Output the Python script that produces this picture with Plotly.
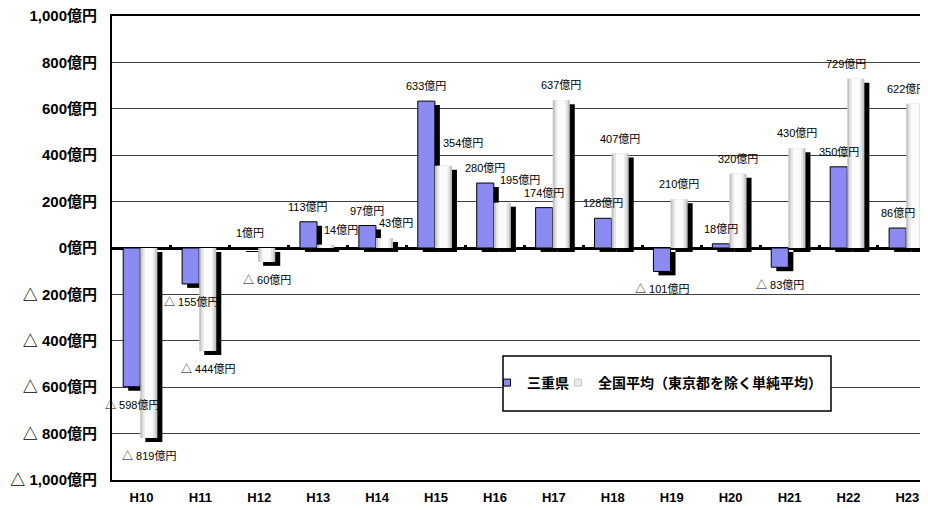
import plotly.graph_objects as go

# ---- data ----
years = ["H10", "H11", "H12", "H13", "H14", "H15", "H16", "H17", "H18", "H19", "H20", "H21", "H22", "H23"]
mie = [-598, -155, 1, 113, 97, 633, 280, 174, 128, -101, 18, -83, 350, 86]
national = [-819, -444, -60, 14, 43, 354, 195, 637, 407, 210, 320, 430, 729, 622]
y_ticks = [1000, 800, 600, 400, 200, 0, -200, -400, -600, -800, -1000]
series_names = ["三重県", "全国平均（東京都を除く単純平均）"]

# label nudges (pixels) for the national-average labels
nat_dx = [0, 0, 0, 15, 12, 20, 18, 0, 0, 0, 0, 0, -10, -8]
nat_dy = [0, 0, 0, 0, 0, 8, 8, 0, 0, 0, 0, 0, 0, 0]

def yen(v):
    return (f"△ {abs(v):,}億円" if v < 0 else f"{v:,}億円")

x = list(range(len(years)))

BLUE_OFF, BLUE_W = -0.31, 0.29
NAT_OFF, NAT_W = -0.02, 0.29
SH_DX = 0.085      # shadow shift right (units)
SH_DY = -17        # shadow shift down (value units)

fig = go.Figure()

fig.add_trace(go.Bar(x=x, y=mie, base=SH_DY, offset=BLUE_OFF + SH_DX, width=BLUE_W,
                     marker=dict(color="black", line=dict(width=0)), showlegend=False, hoverinfo="skip"))
fig.add_trace(go.Bar(x=x, y=mie, offset=BLUE_OFF, width=BLUE_W, name=series_names[0],
                     marker=dict(color="#8a8af0", line=dict(color="black", width=1)), showlegend=False))
fig.add_trace(go.Bar(x=x, y=national, base=SH_DY, offset=NAT_OFF + SH_DX, width=NAT_W,
                     marker=dict(color="black", line=dict(width=0)), showlegend=False, hoverinfo="skip"))
fig.add_trace(go.Bar(x=x, y=national, offset=NAT_OFF, width=NAT_W, name=series_names[1],
                     marker=dict(color="#c4c4c4", line=dict(width=0)), showlegend=False))
fig.add_trace(go.Bar(x=x, y=national, offset=NAT_OFF + 0.035, width=NAT_W - 0.07,
                     marker=dict(color="#e6e6e6", line=dict(width=0)), showlegend=False, hoverinfo="skip"))
fig.add_trace(go.Bar(x=x, y=national, offset=NAT_OFF + 0.075, width=NAT_W - 0.15,
                     marker=dict(color="#fbfbfb", line=dict(width=0)), showlegend=False, hoverinfo="skip"))

fig.add_trace(go.Scatter(x=[None], y=[None], mode="markers", name=series_names[0], xaxis="x2",
                         legend="legend",
                         marker=dict(symbol="square", size=7, color="#8a8af0", line=dict(color="black", width=1))))
fig.add_trace(go.Scatter(x=[None], y=[None], mode="markers", name=series_names[1], xaxis="x2",
                         legend="legend2",
                         marker=dict(symbol="square", size=7, color="#e8e8e8", line=dict(color="#c8c8c8", width=1))))

lab_font = dict(family="Liberation Sans, Noto Sans CJK JP", size=11, color="#000")
ann = []
bc = BLUE_OFF + BLUE_W / 2
nc = NAT_OFF + NAT_W / 2
for i, v in enumerate(mie):
    ann.append(dict(x=i + bc, y=v, text=yen(v), showarrow=False, font=lab_font,
                    xanchor="center", yanchor="middle", yshift=15 if v >= 0 else -18))
for i, v in enumerate(national):
    ann.append(dict(x=i + nc, y=v, text=yen(v), showarrow=False, font=lab_font,
                    xanchor="center", yanchor="middle", xshift=nat_dx[i],
                    yshift=(15 + nat_dy[i]) if v >= 0 else -18))

# page layout (page is shown with an 8px body margin)
OFF = 8
W, H = 928 - OFF, 510 - OFF
L, R, T, B = 112, 928, 16, 480          # plot area in page pixels
pw, ph = R - L, B - T
def px_x(p): return (p - L) / pw
def px_y(p): return (B - p) / ph

shapes = [dict(type="rect", xref="paper", yref="paper", layer="above",
               x0=px_x(503), x1=px_x(831), y0=px_y(411), y1=px_y(356),
               fillcolor="white", line=dict(color="black", width=1.5))]

leg_font = dict(family="Liberation Sans, Noto Sans CJK JP", size=14, color="black", weight="bold")

fig.update_layout(
    width=W, height=H,
    margin=dict(l=L - OFF, r=0, t=T - OFF, b=H - (B - OFF), autoexpand=False),
    paper_bgcolor="white", plot_bgcolor="white",
    barmode="overlay",
    annotations=ann,
    shapes=shapes,
    showlegend=True,
    legend=dict(orientation="h", x=px_x(487), y=px_y(383), xanchor="left", yanchor="middle",
                bgcolor="rgba(0,0,0,0)", borderwidth=0, font=leg_font, itemwidth=30),
    legend2=dict(orientation="h", x=px_x(558), y=px_y(383), xanchor="left", yanchor="middle",
                 bgcolor="rgba(0,0,0,0)", borderwidth=0, font=leg_font, itemwidth=30),
    xaxis=dict(range=[-0.5, 13.35], tickvals=x, ticktext=years, showgrid=False, zeroline=False,
               showline=True, mirror=True, linecolor="black", linewidth=2, ticks="",
               ticklabelstandoff=4, automargin=False, ticklabeloverflow="allow",
               tickfont=dict(family="Liberation Sans", size=13, color="black", weight="bold")),
    xaxis2=dict(range=[-0.5, 13.35], overlaying="x", anchor="free", position=0.5, side="top",
                tickvals=[i + 0.5 for i in range(len(years) - 1)], ticks="outside", ticklen=3,
                tickwidth=3, tickcolor="black", showticklabels=False, showgrid=False,
                zeroline=False, showline=False, automargin=False),
    yaxis=dict(range=[-1000, 1000], tickvals=y_ticks, ticktext=[yen(v) for v in y_ticks],
               showgrid=True, gridcolor="#404040", gridwidth=1,
               zeroline=True, zerolinecolor="black", zerolinewidth=2.5,
               showline=True, linecolor="black", linewidth=2, ticks="", ticklabelstandoff=10,
               automargin=False, ticklabeloverflow="allow",
               tickfont=dict(family="Liberation Sans, Noto Sans CJK JP", size=15, color="black", weight="bold")),
)

fig.write_html("out.html")
